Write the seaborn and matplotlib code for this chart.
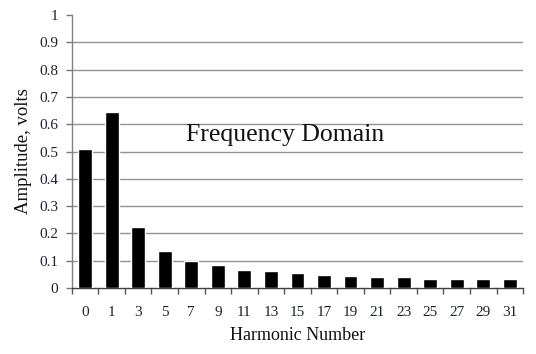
import matplotlib
matplotlib.use("Agg")
import matplotlib.pyplot as plt
import seaborn as sns
import numpy as np

harmonics = ['0', '1', '3', '5', '7', '9', '11', '13', '15', '17', '19', '21', '23', '25', '27', '29', '31']
amplitudes = [0.508, 0.645, 0.222, 0.135, 0.098, 0.083, 0.068, 0.061, 0.055, 0.048, 0.043, 0.040, 0.039, 0.035, 0.035, 0.033, 0.033]
y_ticks = [0, 0.1, 0.2, 0.3, 0.4, 0.5, 0.6, 0.7, 0.8, 0.9, 1]
y_tick_labels = ['0', '0.1', '0.2', '0.3', '0.4', '0.5', '0.6', '0.7', '0.8', '0.9', '1']

sns.set_style("white")
plt.rcParams['font.family'] = ['Liberation Serif', 'DejaVu Serif']

fig = plt.figure(figsize=(5.36, 3.54), dpi=100)
ax = fig.add_axes([0.134, 0.186, 0.842, 0.772])

sns.barplot(x=harmonics, y=amplitudes, color='black', saturation=1, width=0.52, ax=ax, zorder=3)

ax.set_xlim(-0.5, len(harmonics) - 0.5)
ax.set_ylim(0, 1)
ax.set_yticks(y_ticks)
ax.set_yticklabels(y_tick_labels)

# horizontal gridlines (not at 0 or 1)
for v in y_ticks[1:-1]:
    ax.axhline(v, color='#939393', linewidth=1.0, zorder=1)

# x ticks between categories
ax.set_xticks(np.arange(len(harmonics)))
ax.set_xticklabels(harmonics)
ax.set_xticks(np.arange(-0.5, len(harmonics)), minor=True)
ax.tick_params(axis='x', which='major', length=0, pad=13, labelsize=11, colors='#1c2233')
ax.tick_params(axis='x', which='minor', length=4, width=1, color='#555555', direction='out', bottom=True)
ax.tick_params(axis='y', which='major', length=4, width=1, color='#777777', direction='out', left=True,
               labelsize=11, labelcolor='#1c2233', pad=6)

for s in ['top', 'right']:
    ax.spines[s].set_visible(False)
ax.spines['left'].set_color('#808080')
ax.spines['left'].set_linewidth(1.0)
ax.spines['bottom'].set_color('#404040')
ax.spines['bottom'].set_linewidth(1.0)

ax.set_xlabel('Harmonic Number', fontsize=13, color='#111111', labelpad=5.5)
ax.set_ylabel('Amplitude, volts', fontsize=13.5, color='#111111', labelpad=5)

ax.text(0.472, 0.56, 'Frequency Domain', transform=ax.transAxes, ha='center', va='center',
        fontsize=18.5, color='#111111', zorder=4)

fig.savefig('out.png', dpi=100, facecolor='white')
